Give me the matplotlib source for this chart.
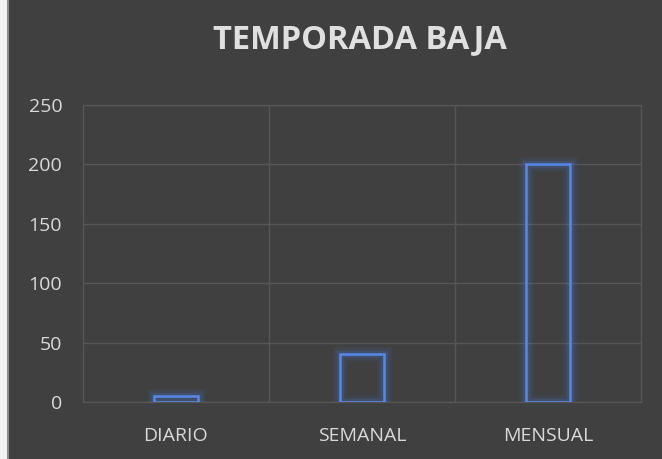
import numpy as np
import matplotlib.pyplot as plt
from matplotlib.patches import Rectangle

# data
categories = ["DIARIO", "SEMANAL", "MENSUAL"]
values = [5, 40, 200]
yticks = [0, 50, 100, 150, 200, 250]

bg = "#404040"
fig = plt.figure(figsize=(6.62, 4.59), dpi=100, facecolor=bg)
ax = fig.add_axes([0.1254, 0.1242, 0.8426, 0.647])
ax.set_facecolor(bg)

# white strip on the left edge
fig.patches.append(Rectangle((0, 0), 7 / 662, 1, transform=fig.transFigure,
                             facecolor="#f2f2f2", edgecolor="none"))
fig.patches.append(Rectangle((7 / 662, 0), 1.5 / 662, 1, transform=fig.transFigure,
                             facecolor="#8a8a8a", edgecolor="none"))

x = np.arange(len(categories))
w = 0.24
# glow
for lw, a in [(11, 0.06), (8, 0.09), (5, 0.15)]:
    ax.bar(x, values, width=w, fill=False, edgecolor="#4a7fe0", linewidth=lw, alpha=a, zorder=3)
ax.bar(x, values, width=w, fill=False, edgecolor="#5788e8", linewidth=1.8, zorder=4)

ax.set_xlim(-0.5, 2.5)
ax.set_ylim(0, 250)
ax.set_yticks(yticks)
ax.set_xticks(x)
ax.set_xticklabels(categories)
ax.grid(axis="y", color="#555555", linewidth=1)
for b in [0.5, 1.5]:
    ax.axvline(b, color="#555555", linewidth=1)
ax.set_axisbelow(True)
for s in ax.spines.values():
    s.set_color("#555555")
    s.set_linewidth(1)
ax.tick_params(length=0, colors="#d9d9d9", labelsize=14)
for t in ax.get_xticklabels() + ax.get_yticklabels():
    t.set_fontfamily("Open Sans")
ax.tick_params(axis="y", pad=15)
ax.tick_params(axis="x", pad=18)

fig.text(0.544, 0.914, "TEMPORADA BAJA", ha="center", va="center",
         color="#e0e0e0", fontsize=23.5, fontweight="bold", family="Open Sans")

fig.savefig("out.png", dpi=100, facecolor=bg)
